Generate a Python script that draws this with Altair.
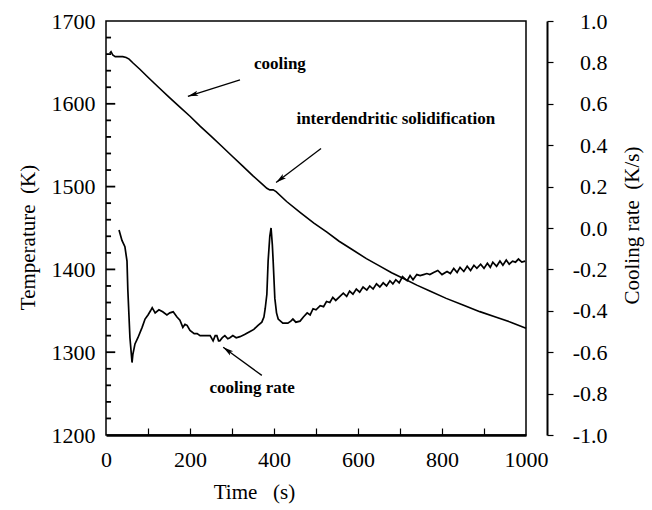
import math
import altair as alt
import pandas as pd

# ---------------- data ----------------
time_T = [9, 12, 16, 22, 30, 40, 48, 55, 65, 80, 100, 125, 150, 176, 200, 224, 250, 275,
          300, 325, 350, 370, 383, 390, 398, 405, 430, 462, 495, 526, 555, 586, 620, 652,
          680, 712, 740, 771, 810, 850, 890, 931, 965, 1000]
temp_K = [1661, 1663, 1659, 1657, 1657, 1657, 1656, 1654, 1649, 1642, 1632, 1620, 1608, 1596,
          1585, 1573, 1561, 1549, 1537, 1525, 1513, 1504, 1498, 1496, 1496, 1494, 1482, 1469,
          1456, 1445, 1434, 1424, 1413, 1404, 1396, 1388, 1381, 1374, 1365, 1357, 1349, 1342,
          1336, 1329]

time_r = [31, 38, 45, 50, 52, 57, 62, 64, 69, 76, 86, 93, 100, 106, 110, 117, 126, 135, 145,
          152, 160, 169, 176, 183, 188, 193, 200, 210, 217, 224, 232, 240, 248, 255, 260, 264,
          268, 271, 277, 283, 290, 295, 302, 310, 319, 330, 343, 352, 362, 371, 376, 379, 383,
          386, 390, 393, 396, 398, 402, 406, 410, 421, 433, 440, 445, 452, 462, 470, 479, 486,
          493, 500, 510, 518, 525, 533, 540, 547, 557, 565, 573, 580, 588, 596, 604, 612, 621,
          628, 636, 644, 652, 660, 668, 676, 683, 690, 698, 706, 717, 724, 731, 740, 748, 756,
          764, 771, 780, 790, 800, 812, 820, 828, 836, 843, 852, 860, 868, 876, 883, 892, 900,
          908, 915, 921, 930, 938, 945, 953, 960, 968, 975, 982, 990, 998]
rate = [-0.01, -0.06, -0.09, -0.16, -0.30, -0.53, -0.65, -0.61, -0.56, -0.53, -0.48, -0.44,
        -0.42, -0.40, -0.385, -0.41, -0.395, -0.405, -0.42, -0.41, -0.405, -0.43, -0.445,
        -0.48, -0.465, -0.47, -0.495, -0.51, -0.51, -0.52, -0.52, -0.52, -0.52, -0.545, -0.52,
        -0.52, -0.545, -0.545, -0.53, -0.52, -0.535, -0.53, -0.52, -0.53, -0.525, -0.515,
        -0.50, -0.49, -0.47, -0.455, -0.43, -0.39, -0.32, -0.16, -0.04, 0.0, -0.08, -0.16,
        -0.34, -0.41, -0.44, -0.46, -0.46, -0.45, -0.44, -0.455, -0.45, -0.43, -0.41, -0.42,
        -0.39, -0.395, -0.375, -0.38, -0.355, -0.36, -0.335, -0.35, -0.33, -0.315, -0.33,
        -0.305, -0.32, -0.295, -0.31, -0.285, -0.30, -0.28, -0.295, -0.27, -0.285, -0.265,
        -0.28, -0.255, -0.27, -0.25, -0.265, -0.235, -0.255, -0.23, -0.25, -0.225, -0.23,
        -0.225, -0.22, -0.225, -0.215, -0.205, -0.225, -0.21, -0.22, -0.195, -0.215, -0.19,
        -0.21, -0.185, -0.205, -0.18, -0.195, -0.175, -0.195, -0.17, -0.19, -0.165, -0.185,
        -0.16, -0.18, -0.155, -0.175, -0.16, -0.165, -0.15, -0.165, -0.16]

label_text = ["cooling", "interdendritic solidification", "cooling rate"]
label_t = [414, 690, 348]
label_T = [1648, 1582, 1257]

arrow_t0 = [319, 512, 371]
arrow_T0 = [1629, 1546, 1272]
arrow_t1 = [195, 405, 279]
arrow_T1 = [1609, 1505, 1306]

x_ticks = [0, 200, 400, 600, 800, 1000]
x_inner_ticks = [100, 200, 300, 400, 500, 600, 700, 800, 900]
T_ticks = [1200, 1300, 1400, 1500, 1600, 1700]
T_minor = [v for v in range(1220, 1700, 20) if v % 100 != 0]
r_ticks = [-1.0, -0.8, -0.6, -0.4, -0.2, 0.0, 0.2, 0.4, 0.6, 0.8, 1.0]

# ---------------- layout ----------------
W, H = 420, 414
FONT = "Liberation Serif"
MINOR_LEN = 12   # inward tick length, in seconds of the time axis
MAJOR_LEN = 22

df_T = pd.DataFrame({"t": time_T, "T": temp_K})
df_r = pd.DataFrame({"t": time_r, "r": rate})
df_lab = pd.DataFrame({"t": label_t, "T": label_T, "label": label_text})

angles = []
for a0, b0, a1, b1 in zip(arrow_t0, arrow_T0, arrow_t1, arrow_T1):
    dx = (a1 - a0) * W / 1000.0
    dy = -(b1 - b0) * H / 500.0
    angles.append(math.degrees(math.atan2(dx, -dy)) % 360)
df_arr = pd.DataFrame({"t0": arrow_t0, "T0": arrow_T0, "t1": arrow_t1, "T1": arrow_T1,
                       "ang": angles})

# inward ticks of the left (temperature) axis, in data units
tick_vals = T_minor + T_ticks[1:-1]
tick_lens = [MINOR_LEN] * len(T_minor) + [MAJOR_LEN] * 4
df_ticks = pd.DataFrame({
    "a": [0] * len(tick_vals),
    "b": tick_lens,
    "v": tick_vals,
})

xs = alt.Scale(domain=[0, 1000], nice=False, zero=False)
ys_T = alt.Scale(domain=[1200, 1700], nice=False, zero=False)
ys_r = alt.Scale(domain=[-1, 1], nice=False, zero=False)

temp = alt.Chart(df_T).mark_line(color="black", strokeWidth=1.6).encode(
    x=alt.X("t:Q", scale=xs, axis=alt.Axis(
        orient="bottom", values=x_ticks, format="d", labelFontSize=22, ticks=False,
        domain=True, domainWidth=2.5, labelPadding=14, labelFlush=False, labelOverlap=False,
        title="Time\u00a0\u00a0\u00a0(s)", titleFontSize=21, titleX=148, titleY=57,
        titleBaseline="middle", titleAlign="center")),
    y=alt.Y("T:Q", scale=ys_T, axis=alt.Axis(
        orient="left", values=T_ticks, format="d", labelFontSize=22, ticks=False,
        domain=False, labelPadding=11, labelOverlap=False,
        title="Temperature\u00a0\u00a0(K)", titleFontSize=21, titleAngle=270, titleX=-78,
        titleY=216, titleBaseline="middle", titleAlign="center")),
)

cool = alt.Chart(df_r).mark_line(color="black", strokeWidth=1.7).encode(
    x=alt.X("t:Q", scale=xs, axis=alt.Axis(
        orient="top", offset=-H, values=x_inner_ticks, tickSize=7, tickWidth=1.2,
        labels=False, domain=False, title=None)),
    y=alt.Y("r:Q", scale=ys_r, axis=alt.Axis(
        orient="right", offset=21, values=r_ticks,
        labelExpr="(datum.value < -0.001 ? '-' : '') + format(abs(datum.value), '.1f')",
        tickSize=6, tickWidth=1.2, domain=True, domainWidth=2, labelAlign="right",
        labelPadding=54, labelFontSize=22, labelOverlap=False,
        title="Cooling rate\u00a0\u00a0(K/s)", titleFontSize=21, titleAngle=270, titleX=85,
        titleY=204, titleBaseline="middle", titleAlign="center")),
)

left_ticks = alt.Chart(df_ticks).mark_rule(color="black", strokeWidth=1.8).encode(
    x=alt.X("a:Q", scale=xs, axis=None),
    x2="b:Q",
    y=alt.Y("v:Q", scale=ys_T, axis=None),
    y2="v:Q",
)

arrows = alt.Chart(df_arr).mark_rule(color="black", strokeWidth=1.3).encode(
    x=alt.X("t0:Q", scale=xs, axis=None),
    x2="t1:Q",
    y=alt.Y("T0:Q", scale=ys_T, axis=None),
    y2="T1:Q",
)

heads = alt.Chart(df_arr).mark_point(
    shape="M0,0 L-0.4,1.6 L0,1.25 L0.4,1.6 Z", filled=True, color="black",
    size=170, opacity=1,
).encode(
    x=alt.X("t1:Q", scale=xs, axis=None),
    y=alt.Y("T1:Q", scale=ys_T, axis=None),
    angle=alt.Angle("ang:Q", scale=None),
)

labels = alt.Chart(df_lab).mark_text(
    font=FONT, fontSize=17, fontWeight="bold", color="black"
).encode(
    x=alt.X("t:Q", scale=xs, axis=None),
    y=alt.Y("T:Q", scale=ys_T, axis=None),
    text="label:N",
)

chart = alt.layer(temp, cool, left_ticks, arrows, heads, labels).resolve_scale(
    x="independent", y="independent"
).resolve_axis(
    x="independent", y="independent"
).properties(
    width=W, height=H,
    autosize=alt.AutoSizeParams(type="none"),
    padding={"left": 106, "top": 21, "right": 126, "bottom": 75},
    background="white",
).configure_view(
    stroke="black", strokeWidth=1.5
).configure_axis(
    labelColor="black", titleColor="black", tickColor="black", domainColor="black",
    labelFont=FONT, titleFont=FONT, titleFontWeight="normal", grid=False,
)

chart.save("out.html", embed_options={"renderer": "svg", "actions": False})
